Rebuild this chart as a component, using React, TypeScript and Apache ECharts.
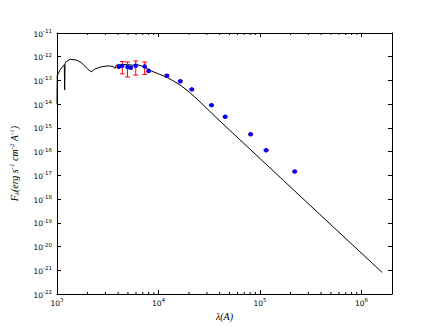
import React, { useEffect, useRef } from "react";
import * as echarts from "echarts";

// Model SED (wavelength in Å, flux in erg s^-1 cm^-2 Å^-1)
const modelWave = [
  1000, 1005, 1070, 1165, 1180, 1190, 1200, 1215, 1350, 1570, 1760, 1960, 2170,
  2355, 2755, 3200, 3600, 3720, 3860, 4300, 4840, 5500, 6200, 6770, 7770, 8510,
  10000, 12000, 14000, 16700, 19500, 22500, 26200, 32000, 41100, 171000, 490000,
  1600000,
];
const modelFlux = [
  1.0e-14, 1.6e-13, 2.75e-13, 4.4e-13, 4.6e-13, 4.0e-14, 5.0e-13, 6.0e-13,
  7.8e-13, 7.2e-13, 5.4e-13, 3.3e-13, 2.3e-13, 3.0e-13, 3.8e-13, 4.1e-13,
  3.9e-13, 3.2e-13, 4.5e-13, 4.6e-13, 4.7e-13, 4.4e-13, 4.6e-13, 4.1e-13,
  3.2e-13, 2.5e-13, 1.9e-13, 1.38e-13, 9.6e-14, 6.0e-14, 3.6e-14, 2.1e-14,
  1.15e-14, 5.0e-15, 1.8e-15, 6.0e-18, 9.0e-20, 8.1e-22,
];

// Observed photometry
const obsWave = [
  4070, 4400, 4950, 5330, 5970, 7310, 8000, 12100, 16400, 21300, 33300, 45400,
  80900, 115000, 220000,
];
const obsFlux = [
  3.8e-13, 4.1e-13, 3.7e-13, 3.43e-13, 4.14e-13, 3.9e-13, 2.5e-13, 1.58e-13,
  9.3e-14, 4.2e-14, 9.1e-15, 2.95e-15, 5.4e-16, 1.15e-16, 1.45e-17,
];
const obsErr = [
  0.3e-13, 2.2e-13, 2.3e-13, 0.3e-13, 2.45e-13, 2.1e-13, 0.2e-13, 0.15e-13,
  0.6e-14, 0.3e-14, 0.5e-15, 0.15e-15, 0.3e-16, 0.06e-16, 0.08e-17,
];

// axis ranges: x in Å (log axis), y as decade exponents of the flux
const xMin = 1e3;
const xMax = 2e6;
const yExpMin = -22;
const yExpMax = -11;
const minorMultipliers = [2, 3, 4, 5, 6, 7, 8, 9];

const W = 436;
const H = 327;
const lg = (v: number) => Math.log10(v);

const xTickFormatter = (v: number) => {
  const l = Math.log10(v);
  const e = Math.round(l);
  if (Math.abs(l - e) > 1e-6) return "";
  return `{b|10}{s|${e}}`;
};
const yTickFormatter = (v: number) => {
  const e = Math.round(v);
  if (Math.abs(v - e) > 1e-6) return "";
  return `{b|10}{s|${e}}`;
};

const tickRich = {
  b: {
    fontFamily: "DejaVu Sans",
    fontSize: 7.5,
    color: "#000",
    lineHeight: 10,
    verticalAlign: "bottom",
  },
  s: {
    fontFamily: "DejaVu Sans",
    fontSize: 5.5,
    color: "#000",
    lineHeight: 6,
    verticalAlign: "top",
  },
};

export default function App() {
  const ref = useRef<HTMLDivElement>(null);

  useEffect(() => {
    if (!ref.current) return;
    document.body.style.margin = "0";
    const chart = echarts.init(ref.current, undefined, {
      renderer: "svg",
      width: W,
      height: H,
    });

    const axisLine = { show: true, lineStyle: { color: "#000", width: 1 } };
    const axisTick = {
      show: true,
      inside: true,
      length: 4,
      lineStyle: { color: "#000", width: 1 },
    };

    const option: any = {
      animation: false,
      backgroundColor: "#fff",
      grid: { left: 55, right: 44, top: 33, bottom: 33, containLabel: false },
      xAxis: [
        {
          type: "log",
          logBase: 10,
          min: xMin,
          max: xMax,
          splitNumber: 3,
          position: "bottom",
          axisLine,
          axisTick,
          splitLine: { show: false },
          axisLabel: {
            formatter: xTickFormatter,
            rich: tickRich,
            margin: 3,
            showMaxLabel: false,
          },
          name: "{i|λ(A)}",
          nameLocation: "middle",
          nameGap: 17,
          nameTextStyle: {
            rich: {
              i: {
                fontFamily: "Liberation Serif",
                fontStyle: "italic",
                fontSize: 10,
                color: "#000",
              },
            },
          },
        },
        {
          type: "log",
          logBase: 10,
          min: xMin,
          max: xMax,
          splitNumber: 3,
          position: "top",
          axisLine,
          axisTick,
          splitLine: { show: false },
          axisLabel: { show: false },
        },
      ],
      yAxis: [
        {
          type: "value",
          min: yExpMin,
          max: yExpMax,
          interval: 1,
          position: "left",
          axisLine,
          axisTick,
          splitLine: { show: false },
          axisLabel: { formatter: yTickFormatter, rich: tickRich, margin: 5 },
          name:
            "{i|F}{sub|λ}{i|(erg s}{sup|-1}{i| cm}{sup|-2}{i| A}{sup|-1}{i|)}",
          nameLocation: "middle",
          nameRotate: 90,
          nameGap: 37,
          nameTextStyle: {
            rich: {
              i: {
                fontFamily: "Liberation Serif",
                fontStyle: "italic",
                fontSize: 10,
                color: "#000",
                lineHeight: 12,
              },
              sub: {
                fontFamily: "Liberation Serif",
                fontStyle: "italic",
                fontSize: 7,
                color: "#000",
                lineHeight: 12,
                verticalAlign: "bottom",
              },
              sup: {
                fontFamily: "Liberation Serif",
                fontStyle: "italic",
                fontSize: 7,
                color: "#000",
                lineHeight: 8,
                verticalAlign: "top",
              },
            },
          },
        },
        {
          type: "value",
          min: yExpMin,
          max: yExpMax,
          interval: 1,
          position: "right",
          axisLine,
          axisTick,
          splitLine: { show: false },
          axisLabel: { show: false },
        },
      ],
      series: [
        {
          type: "line",
          data: modelWave.map((w, i) => [w, lg(modelFlux[i])]),
          showSymbol: false,
          symbol: "none",
          lineStyle: { color: "#000", width: 1 },
          z: 1,
        },
        {
          type: "custom",
          data: obsWave.map((w, i) => [
            w,
            lg(obsFlux[i] - obsErr[i]),
            lg(obsFlux[i] + obsErr[i]),
          ]),
          encode: { x: 0, y: [1, 2] },
          renderItem: (params: any, api: any) => {
            const x = api.value(0);
            const lo = api.value(1);
            const hi = api.value(2);
            const pLo = api.coord([x, lo]);
            const pHi = api.coord([x, hi]);
            const cap = 2.5;
            const st = { stroke: "#ff0000", lineWidth: 1 };
            return {
              type: "group",
              children: [
                {
                  type: "line",
                  shape: { x1: pLo[0], y1: pLo[1], x2: pHi[0], y2: pHi[1] },
                  style: st,
                },
                {
                  type: "line",
                  shape: {
                    x1: pLo[0] - cap,
                    y1: pLo[1],
                    x2: pLo[0] + cap,
                    y2: pLo[1],
                  },
                  style: st,
                },
                {
                  type: "line",
                  shape: {
                    x1: pHi[0] - cap,
                    y1: pHi[1],
                    x2: pHi[0] + cap,
                    y2: pHi[1],
                  },
                  style: st,
                },
              ],
            };
          },
          z: 2,
        },
        {
          type: "scatter",
          data: obsWave.map((w, i) => [w, lg(obsFlux[i])]),
          symbol: "circle",
          symbolSize: 4.5,
          itemStyle: { color: "#0000ff", opacity: 1 },
          z: 3,
        },
      ],
    };

    chart.setOption(option);

    // minor ticks on the x axes (matplotlib style, at 2..9 × 10^k)
    const yBottom = chart.convertToPixel({ yAxisIndex: 0 }, yExpMin) as number;
    const yTop = chart.convertToPixel({ yAxisIndex: 0 }, yExpMax) as number;
    const minor: any[] = [];
    if (isFinite(yBottom) && isFinite(yTop)) {
      for (let e = 3; e <= 6; e++) {
        for (const m of minorMultipliers) {
          const v = m * Math.pow(10, e);
          if (v >= xMax) continue;
          const px = chart.convertToPixel({ xAxisIndex: 0 }, v) as number;
          if (!isFinite(px)) continue;
          minor.push({
            type: "line",
            shape: { x1: px, y1: yBottom, x2: px, y2: yBottom - 2 },
            style: { stroke: "#000", lineWidth: 1 },
            silent: true,
          });
          minor.push({
            type: "line",
            shape: { x1: px, y1: yTop, x2: px, y2: yTop + 2 },
            style: { stroke: "#000", lineWidth: 1 },
            silent: true,
          });
        }
      }
    }
    chart.setOption({ graphic: minor });

    return () => chart.dispose();
  }, []);

  return (
    <div
      ref={ref}
      style={{
        position: "absolute",
        left: 0,
        top: 0,
        width: W,
        height: H,
        background: "#fff",
      }}
    />
  );
}
